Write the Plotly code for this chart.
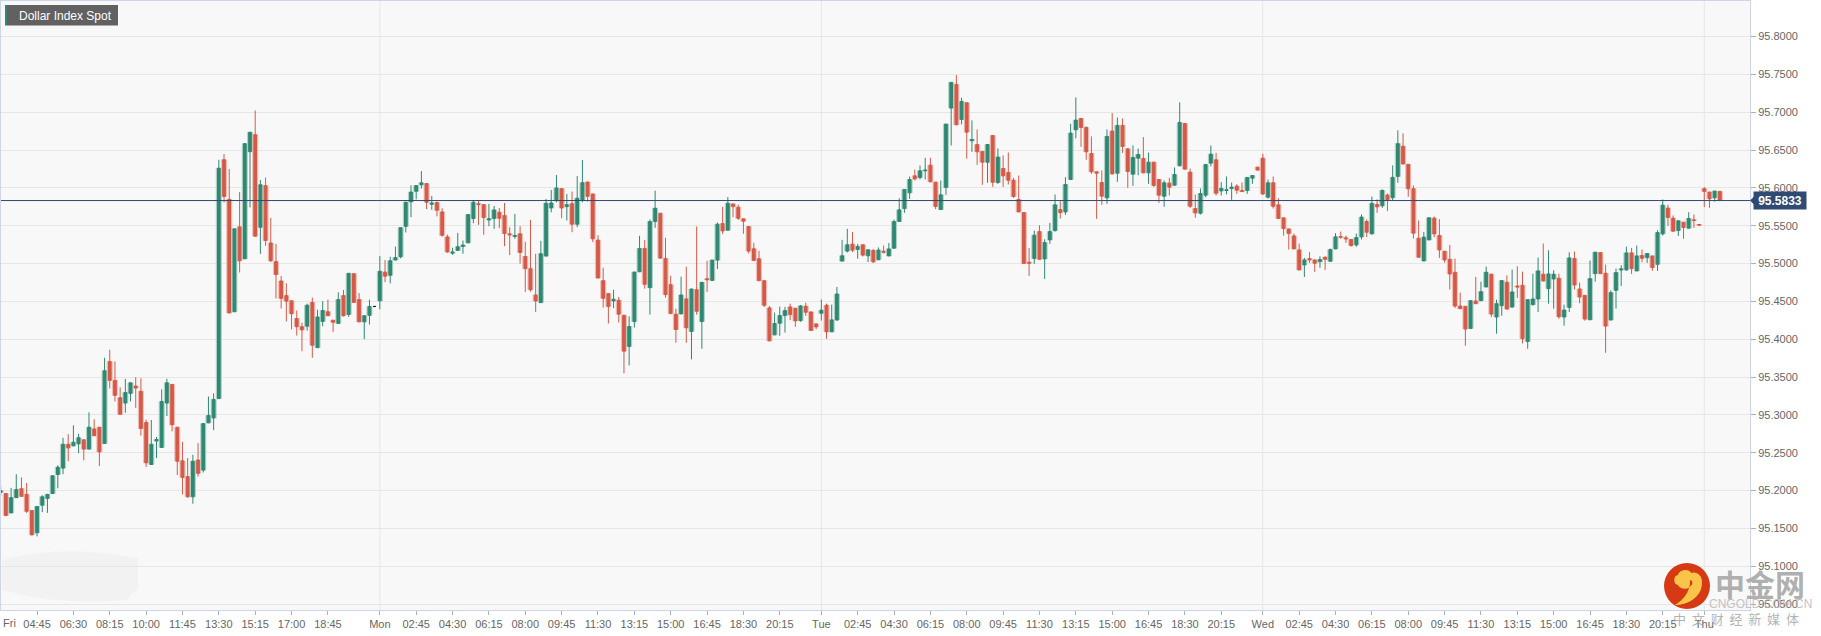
import plotly.graph_objects as go

chart_title = "Dollar Index Spot"
last_price = 95.5833

opens = [
95.1977,95.1961,95.1705,95.1907,95.2025,95.1950,95.1737,95.1443,95.1806,95.1897,
95.1961,95.2212,95.2297,95.2612,95.2591,95.2618,95.2671,95.2548,95.2815,95.2837,
95.2623,95.3707,95.3456,95.3227,95.3157,95.3285,95.3381,95.3312,95.2901,95.2345,
95.2655,95.2570,95.3157,95.3403,95.2837,95.2393,95.2185,95.1918,95.2404,95.2271,
95.2895,95.2960,95.3216,95.6372,95.5848,95.4364,95.5485,95.5063,95.6479,95.6703,
95.5480,95.6030,95.5272,95.5026,95.4770,95.4577,95.4508,95.4273,95.4166,95.4172,
95.4487,95.3889,95.4236,95.4364,95.4252,95.4209,95.4577,95.4327,95.4866,95.4524,
95.4230,95.4316,95.4433,95.4508,95.4887,95.4845,95.5047,95.5090,95.5491,95.5816,
95.5955,95.6041,95.6057,95.5784,95.5806,95.5683,95.5352,
95.5138,95.5174,95.5226,
95.5274,95.5595,95.5792,95.5779,95.5577,95.5595,95.5678,95.5634,95.5393,95.5358,
95.5393,95.5094,95.4932,95.4585,95.4484,95.5099,95.5735,95.5832,95.5990,95.5753,
95.5792,95.5520,95.5841,95.6078,95.5920,95.5310,95.4774,95.4603,95.4506,95.4515,
95.4317,95.3905,95.4234,95.4892,95.5200,95.4682,95.5555,95.5665,95.5068,95.4721,
95.4331,95.4335,95.4533,95.4102,95.4655,95.4234,95.4800,95.4778,95.5046,95.5529,
95.5441,95.5788,95.5744,95.5591,95.5490,95.5195,95.5064,95.4774,95.4414,95.4058,
95.4212,95.4313,95.4427,95.4410,95.4247,95.4436,95.4361,95.4203,95.4344,95.4449,
95.4098,95.4256,95.5033,95.5165,95.5257,95.5187,95.5248,95.5103,95.5174,95.5051,
95.5163,95.5101,95.5203,95.5556,95.5727,95.5935,95.6160,95.6138,95.6226,95.6301,
95.6076,95.5714,95.6006,95.7055,95.7368,95.6905,95.7125,95.6623,95.6574,95.6482,
95.6340,95.6693,95.6071,95.6257,95.6204,95.6102,95.5847,95.5674,95.5018,95.5066,
95.5423,95.5062,95.5313,95.5436,95.5714,95.5683,95.6111,95.6768,95.6918,95.6799,
95.6455,95.6213,95.6071,95.5869,95.6751,95.6195,95.6826,95.6517,95.6182,95.6393,
95.6389,95.6199,95.6340,95.6111,95.5891,95.6063,95.6036,95.6292,95.6852,95.6208,
95.5727,95.5666,95.5904,95.6327,95.6371,95.5961,95.5966,95.5992,95.6023,95.5966,
95.5966,95.6129,95.6274,95.6393,95.5877,95.6067,95.5776,95.5604,95.5458,95.5366,
95.5181,95.4982,95.5066,
95.5048,95.5026,95.5084,95.5031,95.5194,95.5357,95.5340,
95.5318,95.5247,95.5353,95.5556,95.5393,95.5781,95.5764,95.5905,95.5870,95.6152,
95.6550,95.6311,95.5989,95.5335,95.5035,95.5313,95.5600,95.5371,95.5163,95.5057,
95.4885,95.4439,95.4435,95.4143,95.4505,95.4510,95.4691,95.4859,95.4294,95.4444,
95.4753,95.4426,95.4704,95.4713,95.3971,95.4457,95.4532,95.4859,95.4669,95.4797,
95.4806,95.4294,95.4421,95.5066,95.4664,95.4580,95.4258,95.4867,95.5146,95.4872,
95.4254,95.4647,95.4916,95.4916,95.5141,95.4903,95.5106,95.5079,95.5101,95.4991,
95.5393,95.5733,95.5600,95.5437,95.5547,95.5468,95.5578,95.5516,95.5989,95.5945,95.5870,95.5954,
]

highs = [
95.2057,95.1961,95.2036,95.2217,95.2174,95.2100,95.1737,95.1790,95.1940,95.1950,
95.2196,95.2335,95.2698,95.2746,95.2863,95.2751,95.2671,95.3034,95.2943,95.2837,
95.3755,95.3862,95.3707,95.3365,95.3477,95.3424,95.3499,95.3483,95.2938,95.2933,
95.2709,95.3339,95.3477,95.3403,95.2837,95.2644,95.2431,95.2474,95.2628,95.2885,
95.3243,95.3285,95.6372,95.6447,95.6249,95.5459,95.5945,95.6585,95.6735,95.7023,
95.6105,95.6137,95.5603,95.5261,95.4834,95.4738,95.4508,95.4380,95.4220,95.4471,
95.4551,95.4391,95.4503,95.4524,95.4252,95.4620,95.4652,95.4871,95.4866,95.4610,
95.4311,95.4524,95.4433,95.5101,95.5047,95.5090,95.5224,95.5475,95.5811,95.6035,
95.6030,95.6222,95.6057,95.5891,95.5822,95.5731,95.5384,
95.5209,95.5406,95.5305,
95.5648,95.5841,95.5832,95.5779,95.5788,95.5762,95.5735,95.5801,95.5481,95.5656,
95.5494,95.5288,95.5577,95.5130,95.5301,95.5854,95.5972,95.6170,95.5990,95.5920,
95.5951,95.6157,95.6368,95.6078,95.5920,95.5375,95.4945,95.4603,95.4655,95.4559,
95.4317,95.4304,95.4888,95.5367,95.5314,95.5582,95.5964,95.5665,95.5340,95.4840,
95.4405,95.4827,95.4958,95.4664,95.5490,95.4752,95.5037,95.5046,95.5542,95.5749,
95.5880,95.5788,95.5779,95.5591,95.5490,95.5274,95.5169,95.4774,95.4440,95.4353,
95.4432,95.4427,95.4471,95.4410,95.4453,95.4484,95.4361,95.4203,95.4524,95.4471,
95.4458,95.4691,95.5314,95.5459,95.5419,95.5261,95.5248,95.5182,95.5191,95.5213,
95.5238,95.5273,95.5582,95.5864,95.5979,95.6151,95.6243,95.6296,95.6398,95.6398,
95.6076,95.6098,95.6843,95.7394,95.7491,95.7192,95.7125,95.6892,95.6773,95.6482,
95.6574,95.6693,95.6521,95.6429,95.6468,95.6133,95.6164,95.5674,95.5207,95.5436,
95.5507,95.5322,95.5538,95.5913,95.5824,95.6142,95.6848,95.7196,95.6918,95.6812,
95.6680,95.6213,95.6230,95.6773,95.6989,95.6931,95.6918,95.6517,95.6561,95.6521,
95.6671,95.6468,95.6340,95.6111,95.6098,95.6133,95.6270,95.7130,95.6852,95.6257,
95.5913,95.5992,95.6310,95.6561,95.6464,95.6076,95.6151,95.6071,95.6049,95.6071,
95.6138,95.6164,95.6274,95.6451,95.6111,95.6151,95.5864,95.5604,95.5458,95.5397,
95.5265,95.5075,95.5150,
95.5048,95.5097,95.5093,95.5199,95.5402,95.5424,95.5371,
95.5318,95.5397,95.5649,95.5583,95.5887,95.5848,95.5980,95.5927,95.6298,95.6761,
95.6722,95.6311,95.6033,95.5569,95.5419,95.5605,95.5622,95.5587,95.5163,95.5247,
95.5066,95.4616,95.4435,95.4510,95.4823,95.4761,95.4960,95.4867,95.4523,95.4775,
95.4845,95.4920,95.4965,95.4894,95.4523,95.4867,95.5079,95.5265,95.5176,95.4912,
95.4867,95.4457,95.5150,95.5159,95.4748,95.4580,95.5040,95.5150,95.5146,95.4987,
95.4647,95.4934,95.4978,95.5225,95.5207,95.5238,95.5185,95.5132,95.5101,95.5441,
95.5848,95.5777,95.5636,95.5565,95.5547,95.5680,95.5649,95.5516,95.6011,95.5945,95.5958,95.5954,
]

lows = [
95.1924,95.1662,95.1705,95.1907,95.1924,95.1705,95.1406,95.1395,95.1715,95.1705,
95.1961,95.2030,95.2217,95.2388,95.2591,95.2495,95.2399,95.2548,95.2725,95.2324,
95.2623,95.3349,95.3178,95.3008,95.3029,95.3178,95.3093,95.2725,95.2313,95.2345,
95.2431,95.2570,95.2986,95.2783,95.2207,95.1950,95.1907,95.1827,95.2185,95.2239,
95.2895,95.2799,95.3216,95.5806,95.4348,95.4364,95.4882,95.5063,95.5742,95.5362,
95.5128,95.5234,95.5021,95.4540,95.4407,95.4236,95.4129,95.4049,95.3841,95.4113,
95.3755,95.3889,95.4172,95.4311,95.4097,95.4209,95.4300,95.4295,95.4487,95.4230,
95.4001,95.4193,95.4433,95.4396,95.4754,95.4738,95.5047,95.5069,95.5411,95.5613,
95.5848,95.5993,95.5720,95.5710,95.5624,95.5357,95.5143,
95.5116,95.5174,95.5130,
95.5274,95.5533,95.5512,95.5380,95.5494,95.5459,95.5468,95.5231,95.5112,95.5327,
95.5000,95.4625,95.4629,95.4361,95.4484,95.5099,95.5678,95.5810,95.5599,95.5569,
95.5415,95.5481,95.5810,95.5819,95.5283,95.4809,95.4418,95.4208,95.4410,95.4221,
95.3549,95.3655,95.4155,95.4892,95.4669,95.4326,95.5472,95.5072,95.4550,95.4339,
95.3953,95.4335,95.3953,95.3734,95.4326,95.3874,95.4625,95.4778,95.4928,95.5389,
95.5441,95.5613,95.5577,95.5393,95.5134,95.5033,95.4774,95.4427,95.3979,95.4058,
95.4045,95.4089,95.4252,95.4164,95.4230,95.4309,95.4116,95.4133,95.4247,95.4006,
95.4098,95.4243,95.5033,95.5147,95.5152,95.5064,95.5094,95.5020,95.5007,95.5051,
95.5132,95.5101,95.5203,95.5556,95.5670,95.5855,95.6098,95.6111,95.6111,95.6080,
95.5719,95.5714,95.5908,95.6561,95.6834,95.6839,95.6385,95.6477,95.6305,95.6041,
95.6067,95.6014,95.6054,95.6014,95.6045,95.5869,95.5683,95.5000,95.4837,95.4996,
95.5057,95.4797,95.5260,95.5423,95.5595,95.5644,95.6111,95.6654,95.6543,95.6371,
95.6186,95.5591,95.5776,95.5789,95.6177,95.6080,95.6464,95.6001,95.6027,95.6168,
95.6199,95.6054,95.6014,95.5802,95.5750,95.5899,95.6036,95.6292,95.6248,95.5736,
95.5604,95.5648,95.5877,95.6283,95.5899,95.5899,95.5913,95.5842,95.5921,95.5952,
95.5921,95.6054,95.6235,95.5904,95.5860,95.5727,95.5595,95.5370,95.5185,95.5194,
95.4916,95.4823,95.5009,
95.4890,95.4943,95.4916,95.5026,95.5194,95.5327,95.5274,
95.5225,95.5221,95.5318,95.5349,95.5384,95.5671,95.5737,95.5693,95.5834,95.6068,
95.6316,95.5883,95.5331,95.5075,95.5035,95.5313,95.5349,95.5075,95.5013,95.4656,
95.4413,95.4404,95.3914,95.4143,95.4470,95.4510,95.4691,95.4294,95.4073,95.4311,
95.4399,95.4417,95.4545,95.3945,95.3874,95.4448,95.4360,95.4770,95.4470,95.4404,
95.4271,95.4179,95.4360,95.4656,95.4475,95.4245,95.4258,95.4761,95.4867,95.3821,
95.4254,95.4404,95.4704,95.4907,95.4863,95.4903,95.5018,95.5009,95.4903,95.4903,
95.5371,95.5499,95.5428,95.5366,95.5327,95.5468,95.5472,95.5508,95.5746,95.5737,95.5817,95.5833,
]

closes = [
95.1998,95.1672,95.1907,95.2014,95.1924,95.1726,95.1416,95.1790,95.1918,95.1950,
95.2196,95.2308,95.2612,95.2564,95.2639,95.2698,95.2548,95.2837,95.2725,95.2511,
95.3584,95.3456,95.3259,95.3008,95.3296,95.3424,95.3355,95.2821,95.2367,95.2612,
95.2676,95.3178,95.3424,95.2869,95.2388,95.2174,95.1918,95.2388,95.2228,95.2885,
95.2992,95.3205,95.6260,95.5886,95.4348,95.5459,95.5037,95.6585,95.6735,95.5362,
95.6041,95.5304,95.5037,95.4855,95.4540,95.4503,95.4337,95.4166,95.4124,95.4449,
95.3921,95.4294,95.4380,95.4311,95.4225,95.4524,95.4311,95.4871,95.4487,95.4230,
95.4311,95.4433,95.4433,95.4898,95.4834,95.5037,95.5079,95.5475,95.5811,95.5945,
95.6030,95.6067,95.5811,95.5800,95.5704,95.5373,95.5154,
95.5152,95.5222,95.5244,
95.5648,95.5810,95.5779,95.5608,95.5591,95.5709,95.5599,95.5397,95.5380,95.5371,
95.5147,95.4932,95.4655,95.4506,95.5130,95.5797,95.5801,95.5999,95.5735,95.5779,
95.5520,95.5863,95.6069,95.5889,95.5327,95.4809,95.4541,95.4432,95.4528,95.4331,
95.3843,95.4168,95.4888,95.5200,95.4726,95.5555,95.5731,95.5072,95.4590,95.4339,
95.4129,95.4585,95.4151,95.4664,95.4370,95.4752,95.4787,95.5046,95.5520,95.5432,
95.5797,95.5753,95.5599,95.5560,95.5165,95.5042,95.4774,95.4449,95.3979,95.4208,
95.4313,95.4379,95.4326,95.4243,95.4440,95.4357,95.4116,95.4164,95.4383,95.4098,
95.4256,95.4598,95.5103,95.5248,95.5178,95.5226,95.5112,95.5182,95.5024,95.5178,
95.5150,95.5194,95.5556,95.5710,95.5979,95.6111,95.6120,95.6226,95.6235,95.6080,
95.5754,95.5908,95.6843,95.7394,95.6834,95.7143,95.6737,95.6640,95.6477,95.6340,
95.6574,95.6076,95.6407,95.6160,95.6102,95.5886,95.5683,95.5000,95.5004,95.5375,
95.5057,95.5278,95.5423,95.5776,95.5674,95.6045,95.6724,95.6896,95.6799,95.6477,
95.6213,95.6195,95.5891,95.6680,95.6186,95.6826,95.6548,95.6217,95.6402,95.6442,
95.6199,95.6340,95.6032,95.5904,95.6067,95.6010,95.6177,95.6865,95.6248,95.5758,
95.5670,95.5926,95.6310,95.6446,95.5930,95.5992,95.5974,95.6010,95.5970,95.5952,
95.6138,95.6164,95.6235,95.5921,95.6067,95.5758,95.5595,95.5463,95.5397,95.5194,
95.4916,95.5048,95.5048,
95.5004,95.5053,95.5057,95.5185,95.5353,95.5349,95.5327,
95.5238,95.5344,95.5614,95.5415,95.5795,95.5750,95.5967,95.5843,95.6139,95.6585,
95.6316,95.5989,95.5402,95.5084,95.5349,95.5605,95.5393,95.5181,95.5048,95.4863,
95.4439,95.4404,95.4135,95.4510,95.4470,95.4629,95.4885,95.4333,95.4470,95.4775,
95.4399,95.4625,95.4691,95.4007,95.4523,95.4532,95.4903,95.4770,95.4863,95.4859,
95.4298,95.4386,95.5075,95.4717,95.4558,95.4267,95.4801,95.5150,95.4867,95.4174,
95.4616,95.4881,95.4929,95.5141,95.4934,95.5101,95.5070,95.5132,95.4947,95.5410,
95.5772,95.5609,95.5428,95.5565,95.5477,95.5596,95.5569,95.5508,95.5954,95.5856,95.5958,95.5833,
]

assert len(opens) == len(highs) == len(lows) == len(closes), (len(opens), len(highs), len(lows), len(closes))

tick_positions = [0,7,14,21,28,35,42,49,56,63,
                  73,80,87,94,101,108,115,122,129,136,143,150,
                  158,165,172,179,186,193,200,207,214,221,228,235,
                  243,250,257,264,271,278,285,292,299,306,313,320,328]
tick_labels = ["","04:45","06:30","08:15","10:00","11:45","13:30","15:15","17:00","18:45",
               "Mon","02:45","04:30","06:15","08:00","09:45","11:30","13:15","15:00","16:45","18:30","20:15",
               "Tue","02:45","04:30","06:15","08:00","09:45","11:30","13:15","15:00","16:45","18:30","20:15",
               "Wed","02:45","04:30","06:15","08:00","09:45","11:30","13:15","15:00","16:45","18:30","20:15","Thu"]
day_positions = [73, 158, 243, 328]
price_ticks = [95.05,95.10,95.15,95.20,95.25,95.30,95.35,95.40,95.45,95.50,95.55,95.60,95.65,95.70,95.75,95.80]
price_labels = ["95.0500","95.1000","95.1500","95.2000","95.2500","95.3000","95.3500","95.4000",
                "95.4500","95.5000","95.5500","95.6000","95.6500","95.7000","95.7500","95.8000"]

GREEN, RED = "#2f8872", "#d45a48"
PALE_G, PALE_R = "#a3c9be", "#ecb3a9"
NAVY = "#2f4a73"
GRID, AXIS = "#e6e6e6", "#cdd5e6"
LABEL = "#666666"
FONT = "Liberation Sans"
W, H = 1821, 636
L, R, T, B = 1, 71, 1, 26
px = lambda x: (x - L) / (W - L - R)
py = lambda y: (H - B - y) / (H - T - B)

idx = list(range(len(closes)))
real = [i for i in idx if opens[i] != closes[i]]
flat = [i for i in idx if opens[i] == closes[i]]

fig = go.Figure()
fig.add_trace(go.Bar(
    x=real,
    y=[abs(closes[i] - opens[i]) for i in real],
    base=[min(opens[i], closes[i]) for i in real],
    width=1.0,
    marker=dict(color=[PALE_G if closes[i] > opens[i] else PALE_R for i in real],
                line=dict(width=0.6, color=[PALE_G if closes[i] > opens[i] else PALE_R for i in real])),
    showlegend=False, hoverinfo="skip"))
fig.add_trace(go.Candlestick(
    x=real, open=[opens[i] for i in real], high=[highs[i] for i in real],
    low=[lows[i] for i in real], close=[closes[i] for i in real],
    increasing=dict(line=dict(color=GREEN, width=1), fillcolor=GREEN),
    decreasing=dict(line=dict(color=RED, width=1), fillcolor=RED),
    whiskerwidth=0, showlegend=False, hoverinfo="skip"))
fig.add_trace(go.Candlestick(
    x=flat, open=[opens[i] for i in flat], high=[highs[i] for i in flat],
    low=[lows[i] for i in flat], close=[closes[i] for i in flat],
    increasing=dict(line=dict(color="#111111", width=1), fillcolor="#111111"),
    decreasing=dict(line=dict(color="#111111", width=1), fillcolor="#111111"),
    whiskerwidth=0, showlegend=False, hoverinfo="skip"))

shapes = []
for d in day_positions:
    shapes.append(dict(type="line", xref="x", yref="paper", x0=d, x1=d, y0=0, y1=1,
                       line=dict(color=GRID, width=1), layer="below"))
# smudge bottom-left
shapes.append(dict(type="path", xref="paper", yref="paper", layer="below", line=dict(width=0),
                   fillcolor="#f1f1f1", opacity=0.85,
                   path=f"M {px(2)} {py(560)} Q {px(60)} {py(545)} {px(122)} {py(556)} L {px(138)} {py(558)} L {px(138)} {py(588)} "
                        f"L {px(126)} {py(600)} Q {px(60)} {py(606)} {px(2)} {py(590)} Z"))
# current-price line
shapes.append(dict(type="line", xref="paper", yref="y", x0=0, x1=1, y0=last_price, y1=last_price,
                   line=dict(color=NAVY, width=1), layer="above"))
shapes.append(dict(type="path", xref="paper", yref="y", xsizemode="pixel", ysizemode="pixel",
                   xanchor=1, yanchor=last_price, path="M 0 0 L 5 -5 L 5 5 Z",
                   fillcolor=NAVY, line=dict(width=0), layer="above"))
# title badge
shapes.append(dict(type="rect", xref="paper", yref="paper", x0=px(7), x1=px(118), y0=py(25.5), y1=py(5),
                   fillcolor="#616161", line=dict(width=0), layer="above"))
shapes.append(dict(type="rect", xref="paper", yref="paper", x0=px(5), x1=px(7), y0=py(25.5), y1=py(5),
                   fillcolor=GREEN, line=dict(width=0), layer="above"))
# logo
shapes.append(dict(type="circle", xref="paper", yref="paper", x0=px(1664), x1=px(1710), y0=py(609), y1=py(563),
                   fillcolor="#d63a14", line=dict(width=0), layer="above"))
shapes.append(dict(type="path", xref="paper", yref="paper", xsizemode="pixel", ysizemode="pixel",
                   xanchor=px(1687), yanchor=py(586), layer="above", fillcolor="#f9c548", line=dict(width=0),
                   path="M -12 -19 C 0 -19 14 -12 15 2 C 16 12 8 15 4 13 C 2 18 -8 16 -9 11 C -14 11 -14 1 -9 1 "
                        "C -7 -4 3 -4 4 1 C 6 0 6 6 3 6 C 4 -6 -6 -16 -12 -19 Z"))

annos = [
    dict(text=chart_title, xref="paper", yref="paper", x=px(16.5), y=py(15.5), xanchor="left", yanchor="middle",
         showarrow=False, font=dict(family=FONT, size=12, color="white")),
    dict(text="Fri", xref="paper", yref="paper", x=px(1), y=py(623), xanchor="left", yanchor="middle",
         showarrow=False, font=dict(family=FONT, size=11, color=LABEL)),
    dict(text=f"<b>{last_price:.4f}</b>", xref="paper", yref="y", x=px(1753), y=last_price, xanchor="left",
         yanchor="middle", showarrow=False, bgcolor=NAVY, borderpad=0, width=52, height=17, align="center",
         font=dict(family=FONT, size=12, color="white")),
    dict(text="<b>中金网</b>", xref="paper", yref="paper", x=px(1760), y=py(583), xanchor="center", yanchor="middle",
         showarrow=False, font=dict(family="Noto Sans CJK SC", size=30, color="rgba(165,165,165,0.9)")),
    dict(text="CNGOLD.COM.CN", xref="paper", yref="paper", x=px(1760), y=py(604), xanchor="center", yanchor="middle",
         showarrow=False, font=dict(family=FONT, size=12, color="rgba(180,180,180,0.8)")),
    dict(text="中\u00a0\u00a0文\u00a0\u00a0财\u00a0\u00a0经\u00a0\u00a0新\u00a0\u00a0媒\u00a0\u00a0体",
         xref="paper", yref="paper", x=px(1736), y=py(618), xanchor="center", yanchor="middle",
         showarrow=False, font=dict(family="Noto Sans CJK SC", size=13, color="rgba(165,165,165,0.85)")),
]

fig.update_layout(
    width=W, height=H, margin=dict(l=L, r=R, t=T, b=B, pad=0),
    paper_bgcolor="white", plot_bgcolor="#f8f8f8",
    barmode="overlay", boxgap=0.28, showlegend=False,
    shapes=shapes, annotations=annos,
    xaxis=dict(type="linear", range=[0.06, 336.8], rangeslider=dict(visible=False),
               tickmode="array", tickvals=tick_positions, ticktext=tick_labels,
               ticks="outside", ticklen=4, tickwidth=1, tickcolor="#aab2c2",
               showgrid=False, zeroline=False, showline=True, linecolor=AXIS, linewidth=1, mirror=True,
               tickangle=0, tickfont=dict(family=FONT, size=11, color=LABEL)),
    yaxis=dict(side="right", range=[95.0422, 95.847], tickmode="array", tickvals=price_ticks, ticktext=price_labels,
               ticks="outside", ticklen=5, tickwidth=1, tickcolor="#aab2c2",
               showgrid=True, gridcolor=GRID, gridwidth=1, zeroline=False,
               showline=True, linecolor=AXIS, linewidth=1, mirror=True,
               tickfont=dict(family=FONT, size=11, color=LABEL)),
)
fig.write_html("out.html", config=dict(displayModeBar=False),
               post_script="document.body.style.margin='0';document.body.style.overflow='hidden';")
